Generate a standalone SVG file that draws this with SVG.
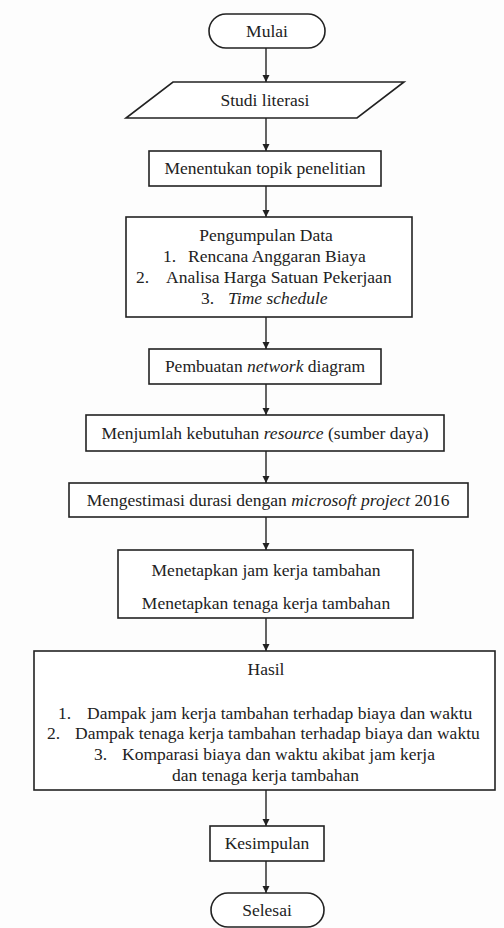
<svg xmlns="http://www.w3.org/2000/svg" width="504" height="928" viewBox="0 0 504 928">
<style>
.s{fill:#fff;stroke:#222;stroke-width:1.6}
text{font-family:"Liberation Serif",serif;font-size:17.5px;fill:#222}
.c{text-anchor:middle}
.i{font-style:italic}
.cn{stroke:#222;stroke-width:1.4;fill:none}
</style>
<defs>
<marker id="ah" markerWidth="8" markerHeight="8" refX="7" refY="4" orient="auto" markerUnits="userSpaceOnUse">
<path d="M0,0.5 L7,4 L0,7.5 Z" fill="#222"/>
</marker>
</defs>
<rect width="504" height="928" fill="#fdfdfd"/>
<g id="connectors">
<line class="cn" x1="266" y1="48" x2="266" y2="82" marker-end="url(#ah)"/>
<line class="cn" x1="266" y1="118" x2="266" y2="151" marker-end="url(#ah)"/>
<line class="cn" x1="266" y1="186" x2="266" y2="217" marker-end="url(#ah)"/>
<line class="cn" x1="266" y1="317" x2="266" y2="349" marker-end="url(#ah)"/>
<line class="cn" x1="266" y1="384" x2="266" y2="415" marker-end="url(#ah)"/>
<line class="cn" x1="266" y1="451" x2="266" y2="483" marker-end="url(#ah)"/>
<line class="cn" x1="266" y1="517" x2="266" y2="550" marker-end="url(#ah)"/>
<line class="cn" x1="266" y1="618" x2="266" y2="651" marker-end="url(#ah)"/>
<line class="cn" x1="266" y1="790" x2="266" y2="826" marker-end="url(#ah)"/>
<line class="cn" x1="266" y1="861" x2="266" y2="893" marker-end="url(#ah)"/>
</g>
<g id="mulai">
<rect class="s" x="209" y="14" width="116" height="34" rx="17" ry="17"/>
<text class="c" x="267" y="37">Mulai</text>
</g>
<g id="studi">
<polygon class="s" points="173,82 404,82 357,118 126,118"/>
<text class="c" x="265" y="106">Studi literasi</text>
</g>
<g id="topik">
<rect class="s" x="149" y="151" width="232" height="35"/>
<text class="c" x="265" y="174">Menentukan topik penelitian</text>
</g>
<g id="data">
<rect class="s" x="126" y="217" width="286" height="100"/>
<text class="c" x="266" y="241">Pengumpulan Data</text>
<text x="163" y="262">1.</text><text x="188" y="262">Rencana Anggaran Biaya</text>
<text x="136" y="283">2.</text><text x="166" y="283">Analisa Harga Satuan Pekerjaan</text>
<text x="201" y="304">3.</text><text class="i" x="228" y="304">Time schedule</text>
</g>
<g id="network">
<rect class="s" x="149" y="349" width="232" height="35"/>
<text class="c" x="265" y="372">Pembuatan <tspan class="i">network</tspan> diagram</text>
</g>
<g id="resource">
<rect class="s" x="86" y="415" width="358" height="36"/>
<text class="c" x="265" y="439">Menjumlah kebutuhan <tspan class="i">resource</tspan> (sumber daya)</text>
</g>
<g id="estimasi">
<rect class="s" x="69" y="483" width="399" height="34"/>
<text class="c" x="268" y="506">Mengestimasi durasi dengan <tspan class="i">microsoft project</tspan> 2016</text>
</g>
<g id="menetapkan">
<rect class="s" x="118" y="550" width="295" height="68"/>
<text class="c" x="266" y="576">Menetapkan jam kerja tambahan</text>
<text class="c" x="266" y="609">Menetapkan tenaga kerja tambahan</text>
</g>
<g id="hasil">
<rect class="s" x="34" y="651" width="461" height="139"/>
<text class="c" x="266" y="675">Hasil</text>
<text x="58" y="719">1.</text><text x="87" y="719">Dampak jam kerja tambahan terhadap biaya dan waktu</text>
<text x="47" y="739">2.</text><text x="75" y="739">Dampak tenaga kerja tambahan terhadap biaya dan waktu</text>
<text x="94" y="760">3.</text><text x="122" y="760">Komparasi biaya dan waktu akibat jam kerja</text>
<text x="172" y="781">dan tenaga kerja tambahan</text>
</g>
<g id="kesimpulan">
<rect class="s" x="210" y="826" width="114" height="35"/>
<text class="c" x="267" y="849">Kesimpulan</text>
</g>
<g id="selesai">
<rect class="s" x="211" y="893" width="113" height="34" rx="17" ry="17"/>
<text class="c" x="267" y="916">Selesai</text>
</g>
</svg>
